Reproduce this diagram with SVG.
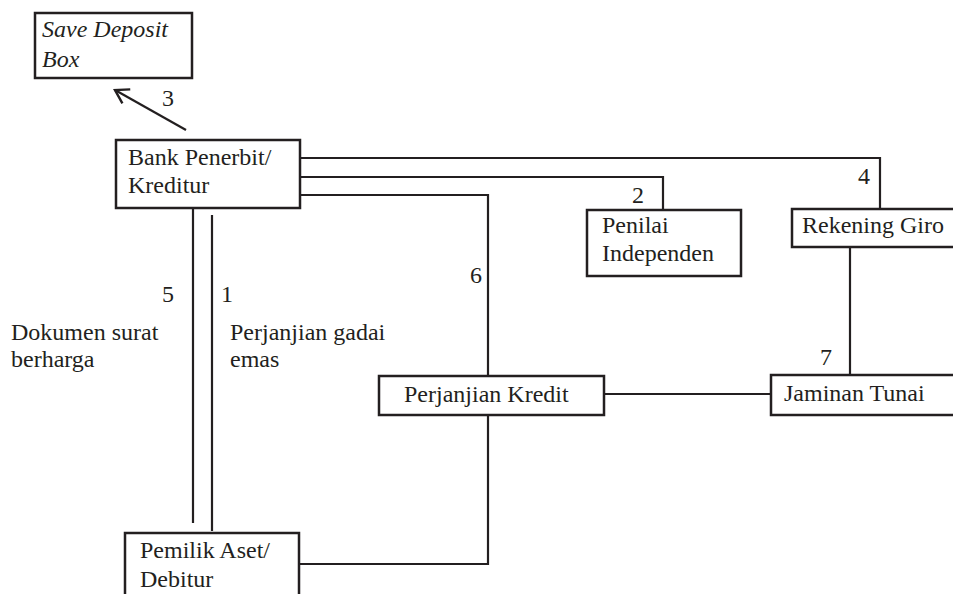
<svg xmlns="http://www.w3.org/2000/svg" width="953" height="594" viewBox="0 0 953 594">
<style>
.box{fill:#fff;stroke:#231f20;stroke-width:2.5}
.ln{fill:none;stroke:#231f20;stroke-width:2.2}
text{font-family:"Liberation Serif","Times New Roman",serif;font-size:24px;fill:#231f20}
.it{font-style:italic}
</style>
<defs>
<marker id="arr" viewBox="0 0 20 20" refX="18" refY="10" markerWidth="20" markerHeight="20" markerUnits="userSpaceOnUse" orient="auto" overflow="visible">
<path d="M5,2 L18,10 L5,18" fill="none" stroke="#231f20" stroke-width="2.4" stroke-linejoin="miter"/>
</marker>
</defs>
<rect width="953" height="594" fill="#fff"/>
<g id="connectors">
<line class="ln" x1="186" y1="130" x2="115" y2="90" marker-end="url(#arr)"/>
<polyline class="ln" points="300,158 880,158 880,209"/>
<polyline class="ln" points="300,177 663,177 663,210"/>
<polyline class="ln" points="300,195 488,195 488,376"/>
<line class="ln" x1="193" y1="208" x2="193" y2="523"/>
<line class="ln" x1="212" y1="215" x2="212" y2="531"/>
<polyline class="ln" points="488,415 488,565"/>
<line class="ln" x1="299" y1="564" x2="489" y2="564"/>
<line class="ln" x1="604" y1="394" x2="771" y2="394"/>
<line class="ln" x1="850" y1="247" x2="850" y2="375"/>
</g>
<g id="labels">
<text x="162" y="106">3</text>
<text x="632" y="203">2</text>
<text x="858" y="184">4</text>
<text x="470" y="283">6</text>
<text x="820" y="365">7</text>
<text x="162" y="302">5</text>
<text x="221" y="302">1</text>
<text x="11" y="340">Dokumen surat</text>
<text x="11" y="367">berharga</text>
<text x="230" y="340">Perjanjian gadai</text>
<text x="230" y="367">emas</text>
</g>
<g id="save-deposit-box">
<rect class="box" x="35" y="13" width="157" height="65"/>
<text class="it" x="42" y="37">Save Deposit</text>
<text class="it" x="42" y="67">Box</text>
</g>
<g id="bank-penerbit">
<rect class="box" x="116" y="140" width="184" height="68"/>
<text x="128" y="165">Bank Penerbit/</text>
<text x="128" y="193">Kreditur</text>
</g>
<g id="penilai-independen">
<rect class="box" x="587" y="210" width="154" height="66"/>
<text x="602" y="233">Penilai</text>
<text x="602" y="261">Independen</text>
</g>
<g id="rekening-giro">
<rect class="box" x="792" y="209" width="170" height="38"/>
<text x="802" y="233">Rekening Giro</text>
</g>
<g id="perjanjian-kredit">
<rect class="box" x="379" y="376" width="225" height="39"/>
<text x="404" y="402">Perjanjian Kredit</text>
</g>
<g id="jaminan-tunai">
<rect class="box" x="771" y="375" width="190" height="40"/>
<text x="784" y="401">Jaminan Tunai</text>
</g>
<g id="pemilik-aset">
<rect class="box" x="125" y="533" width="174" height="70"/>
<text x="140" y="558">Pemilik Aset/</text>
<text x="140" y="587">Debitur</text>
</g>
</svg>
